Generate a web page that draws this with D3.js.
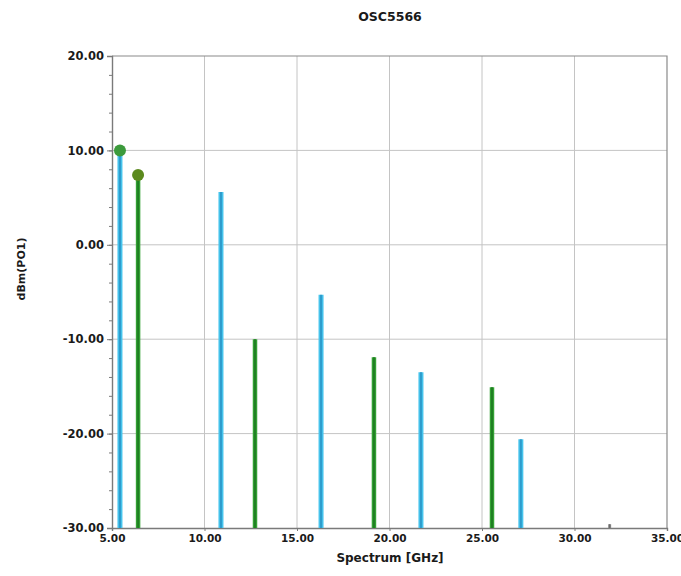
<!DOCTYPE html>
<html>
<head>
<meta charset="utf-8">
<script src="https://cdn.jsdelivr.net/npm/d3@7"></script>
<style>
  body { margin: 0; background: #fff; overflow: hidden; }
  svg { display: block; }
  text { font-family: "DejaVu Sans", Verdana, sans-serif; font-weight: bold; fill: #1a1a1a; }
</style>
</head>
<body>
<svg width="681" height="576"></svg>
<script>
      // spectrum lines
      const blueFreq = [5.43, 10.89, 16.30, 21.70, 27.10];
      const blueDbm = [10.0, 5.6, -5.3, -13.5, -20.6];
      const greenFreq = [6.41, 12.73, 19.16, 25.54];
      const greenDbm = [7.4, -10.0, -11.9, -15.1];
      const grayFreq = [31.9];
      const grayDbm = [-29.6];
      // markers sitting on the two fundamentals
      const markerFreq = [5.43, 6.41];
      const markerDbm = [10.0, 7.4];
      const markerColor = ['#3c9a3c', '#5c8a1e'];

      const xTicks = [5, 10, 15, 20, 25, 30, 35];
      const yTicks = [20, 10, 0, -10, -20, -30];

      const title = 'OSC5566';
      const xLabel = 'Spectrum [GHz]';
      const yLabel = 'dBm(PO1)';

      const margin = { left: 112, right: 14, top: 56, bottom: 48 };
      const svg = d3.select('svg');
      const width = +svg.attr('width');
      const height = +svg.attr('height');
      const innerWidth = width - margin.left - margin.right;
      const innerHeight = height - margin.top - margin.bottom;

      const g = svg.append('g')
          .attr('transform', `translate(${margin.left},${margin.top})`);

      const xScale = d3.scaleLinear().domain([5, 35]).range([0, innerWidth]);
      const yScale = d3.scaleLinear().domain([-30, 20]).range([innerHeight, 0]);

      // plain hyphen minus, like the original tool prints
      const fmt = d => d.toFixed(2);

      // grid
      g.append('g').selectAll('line').data(xTicks.slice(1, -1))
        .enter().append('line')
          .attr('x1', d => xScale(d)).attr('x2', d => xScale(d))
          .attr('y1', 0).attr('y2', innerHeight)
          .attr('stroke', '#c4c4c4').attr('stroke-width', 1);
      g.append('g').selectAll('line').data(yTicks.slice(1, -1))
        .enter().append('line')
          .attr('y1', d => yScale(d)).attr('y2', d => yScale(d))
          .attr('x1', 0).attr('x2', innerWidth)
          .attr('stroke', '#c4c4c4').attr('stroke-width', 1);

      // border on top and right
      g.append('path')
        .attr('d', `M0,0H${innerWidth}V${innerHeight}`)
        .attr('fill', 'none').attr('stroke', '#8a8a8a').attr('stroke-width', 1.2);

      const xAxis = d3.axisBottom(xScale)
        .tickValues(xTicks)
        .tickFormat(fmt)
        .tickSize(3)
        .tickPadding(4);
      const yAxis = d3.axisLeft(yScale)
        .tickValues(yTicks)
        .tickFormat(fmt)
        .tickSize(5)
        .tickPadding(3);
      const yMinor = d3.axisLeft(yScale)
        .tickValues(d3.range(-30, 21, 2))
        .tickFormat('')
        .tickSize(3);

      const xAxisG = g.append('g')
        .attr('transform', `translate(0,${innerHeight})`)
        .call(xAxis);
      const yAxisG = g.append('g').call(yAxis);
      const minorG = g.append('g').call(yMinor);
      minorG.select('.domain').remove();
      minorG.selectAll('.tick text').remove();

      [xAxisG, yAxisG].forEach(a => {
        a.attr('font-family', null).attr('font-size', null);
        a.select('.domain').attr('stroke', '#7a7a7a').attr('stroke-width', 1.4);
      });
      xAxisG.selectAll('.tick text').style('font-size', '10.5px');
      yAxisG.selectAll('.tick text').style('font-size', '11.5px');
      g.selectAll('.tick line').attr('stroke', '#7a7a7a');

      // spectral lines
      const drawLines = (freq, dbm, outer, inner, w) => {
        const data = freq.map((f, i) => ({ f, v: dbm[i] }));
        const lg = g.append('g');
        lg.selectAll('.outer').data(data).enter().append('line')
          .attr('x1', d => xScale(d.f)).attr('x2', d => xScale(d.f))
          .attr('y1', yScale(-30)).attr('y2', d => yScale(d.v))
          .attr('stroke', outer).attr('stroke-width', w);
        lg.selectAll('.inner').data(data).enter().append('line')
          .attr('x1', d => xScale(d.f)).attr('x2', d => xScale(d.f))
          .attr('y1', yScale(-30)).attr('y2', d => yScale(d.v))
          .attr('stroke', inner).attr('stroke-width', w * 0.4);
      };
      drawLines(blueFreq, blueDbm, '#46c3ec', '#2e9ccc', 5);
      drawLines(greenFreq, greenDbm, '#33a133', '#1f7d22', 4.5);
      drawLines(grayFreq, grayDbm, '#8a8a8a', '#6a6a6a', 3);

      g.selectAll('.marker').data(markerFreq)
        .enter().append('circle')
          .attr('cx', d => xScale(d))
          .attr('cy', (d, i) => yScale(markerDbm[i]))
          .attr('r', 6)
          .attr('fill', (d, i) => markerColor[i]);

      svg.append('text')
        .attr('x', 390).attr('y', 21)
        .attr('text-anchor', 'middle')
        .style('font-size', '12.5px')
        .text(title);

      svg.append('text')
        .attr('x', 390).attr('y', 562)
        .attr('text-anchor', 'middle')
        .style('font-size', '12px')
        .text(xLabel);

      svg.append('text')
        .attr('transform', 'translate(25,269) rotate(-90)')
        .attr('text-anchor', 'middle')
        .style('font-size', '11px')
        .text(yLabel);
</script>
</body>
</html>
